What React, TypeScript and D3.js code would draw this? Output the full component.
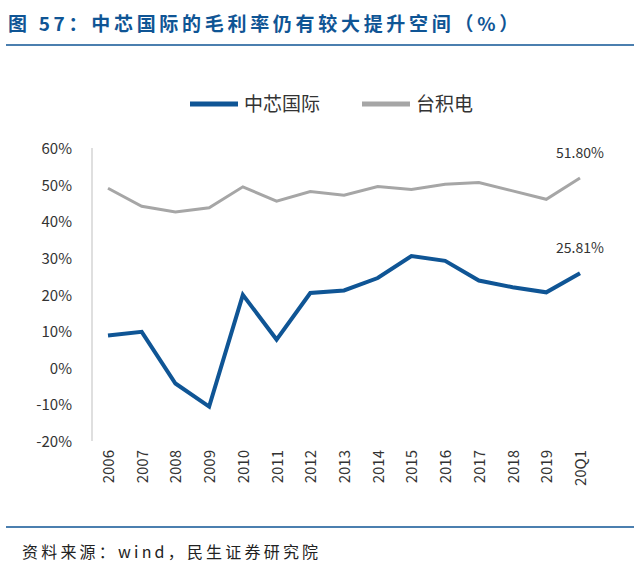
import React from "react";
import * as d3 from "d3";

const years = ["2006","2007","2008","2009","2010","2011","2012","2013","2014","2015","2016","2017","2018","2019","20Q1"];
const smic = [8.8,9.8,-4.3,-10.6,19.9,7.7,20.4,21.1,24.5,30.5,29.2,23.8,22.0,20.6,25.81];
const tsmc = [49.0,44.1,42.5,43.7,49.4,45.5,48.1,47.1,49.5,48.7,50.1,50.6,48.3,46.0,51.8];
const yTicks = [-20,-10,0,10,20,30,40,50,60];

export default function App() {
  const x = d3.scalePoint<string>().domain(years).range([108, 580]);
  const y = d3.scaleLinear().domain([-20, 60]).range([441, 148]);
  const line = d3.line<number>().x((_, i) => x(years[i])!).y(d => y(d));
  const blue = "#0F5595", gray = "#A6A6A6";
  const font = "'Noto Sans CJK SC', 'Noto Sans', sans-serif";
  return (
    <svg width={640} height={576} style={{ position: "absolute", left: 0, top: 0 }} fontFamily={font}>
      <rect width={640} height={576} fill="#fff" />
      <text x={8} y={31} fill={blue} fontSize={19} fontWeight="bold" letterSpacing={3.7}>图 57：中芯国际的毛利率仍有较大提升空间（%）</text>
      <line x1={6} x2={634} y1={45} y2={45} stroke={blue} strokeWidth={1.5} />
      <line x1={190} x2={238} y1={104} y2={104} stroke={blue} strokeWidth={5} />
      <text x={244} y={111} fontSize={19} fill="#333">中芯国际</text>
      <line x1={362} x2={410} y1={104} y2={104} stroke={gray} strokeWidth={5} />
      <text x={416} y={111} fontSize={19} fill="#333">台积电</text>
      <line x1={92} x2={92} y1={148} y2={441} stroke="#BFBFBF" />
      {yTicks.map(t => (
        <text key={t} x={72} y={y(t) + 6} textAnchor="end" fontSize={15} fill="#333">{t}%</text>
      ))}
      {years.map(yr => (
        <text key={yr} transform={`translate(${x(yr)! + 6},${450}) rotate(-90)`} textAnchor="end" fontSize={15} fill="#333">{yr}</text>
      ))}
      <path d={line(tsmc)!} fill="none" stroke={gray} strokeWidth={3} />
      <path d={line(smic)!} fill="none" stroke={blue} strokeWidth={4} />
      <text x={580} y={y(51.8) - 20} textAnchor="middle" fontSize={14} fill="#333">51.80%</text>
      <text x={580} y={y(25.81) - 20} textAnchor="middle" fontSize={14} fill="#333">25.81%</text>
      <line x1={6} x2={634} y1={527} y2={527} stroke={blue} strokeWidth={1.5} />
      <text x={22} y={558} fontSize={16} fill="#222" letterSpacing={3.2}>资料来源：wind，民生证券研究院</text>
    </svg>
  );
}
